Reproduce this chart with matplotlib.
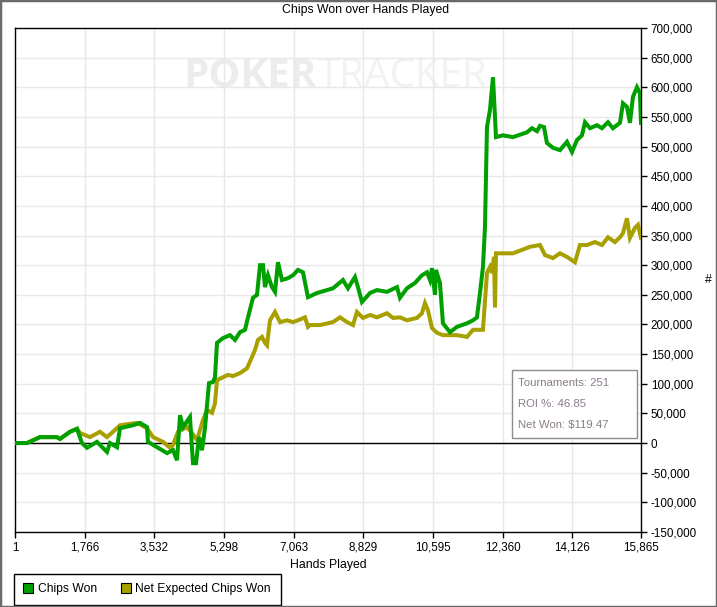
import matplotlib
matplotlib.use("Agg")
import matplotlib.pyplot as plt
from matplotlib.lines import Line2D
from matplotlib.patches import Rectangle
from matplotlib.ticker import FuncFormatter

# data (hands played, chips)
hands_won = [1, 305, 634, 1065, 1141, 1395, 1572, 1699, 1825, 2079, 2332, 2408, 2586, 2662,
             2991, 3169, 3346, 3371, 3600, 3853, 4005, 4106, 4183, 4258, 4435, 4511, 4588,
             4663, 4740, 4815, 4917, 5019, 5069, 5120, 5272, 5449, 5576, 5703, 5830, 5906,
             6032, 6134, 6210, 6286, 6336, 6412, 6513, 6590, 6665, 6767, 6918, 7046, 7172,
             7299, 7425, 7653, 8059, 8312, 8439, 8616, 8692, 8794, 8996, 9174, 9427, 9681,
             9757, 9934, 10137, 10314, 10441, 10517, 10568, 10644, 10669, 10770, 10846,
             11024, 11201, 11455, 11607, 11708, 11784, 11860, 11911, 11962, 12038, 12114,
             12190, 12367, 12621, 12975, 13102, 13229, 13305, 13406, 13482, 13634, 13811,
             13989, 14116, 14242, 14369, 14445, 14572, 14749, 14876, 15028, 15154, 15332,
             15408, 15509, 15585, 15661, 15762, 15838, 15865]
chips_won = [0, 0, 10000, 10000, 7000, 19000, 24000, 0, -8000, 2000, -15000, 0, -7000, 25000,
             30000, 34000, 27000, 2000, -7000, -17000, -12000, -29000, 47000, 27000, 44000,
             -34000, -34000, 10000, -12000, 25000, 101000, 103000, 111000, 169000, 177000,
             182000, 174000, 187000, 191000, 212000, 245000, 250000, 300000, 300000, 263000,
             283000, 263000, 255000, 305000, 275000, 278000, 283000, 292000, 288000, 246000,
             253000, 261000, 275000, 261000, 280000, 263000, 238000, 253000, 258000, 255000,
             263000, 245000, 261000, 270000, 283000, 288000, 275000, 295000, 250000, 292000,
             270000, 202000, 187000, 196000, 202000, 207000, 212000, 253000, 297000, 364000,
             533000, 562000, 617000, 516000, 519000, 516000, 524000, 531000, 526000, 535000,
             533000, 506000, 498000, 494000, 508000, 491000, 511000, 519000, 541000, 531000,
             536000, 531000, 541000, 531000, 540000, 573000, 567000, 540000, 584000, 600000,
             590000, 540000]

hands_exp = [1, 305, 634, 1065, 1141, 1395, 1572, 1648, 1901, 2155, 2332, 2484, 2662, 3093,
             3346, 3498, 3752, 3929, 4005, 4132, 4360, 4486, 4613, 4765, 4866, 4993, 5069,
             5120, 5272, 5398, 5525, 5703, 5880, 6006, 6083, 6159, 6260, 6336, 6387, 6463,
             6590, 6717, 6894, 7046, 7172, 7350, 7425, 7476, 7730, 8059, 8237, 8414, 8566,
             8667, 8819, 8996, 9174, 9427, 9579, 9757, 9934, 10187, 10314, 10390, 10466,
             10568, 10694, 10846, 11201, 11455, 11607, 11860, 11962, 12038, 12089, 12139,
             12165, 12190, 12291, 12621, 13051, 13305, 13432, 13634, 13811, 13989, 14192,
             14318, 14496, 14699, 14876, 15028, 15205, 15332, 15408, 15509, 15585, 15712,
             15788, 15865]
chips_exp = [0, 0, 10000, 10000, 7000, 19000, 24000, 17000, 10000, 19000, 10000, 19000, 30000,
             34000, 25000, 10000, 2000, -8000, -3000, 19000, 27000, 17000, 5000, 39000, 56000,
             51000, 67000, 106000, 111000, 115000, 113000, 118000, 126000, 145000, 157000,
             174000, 179000, 169000, 165000, 207000, 221000, 204000, 207000, 204000, 207000,
             212000, 196000, 199000, 199000, 204000, 212000, 204000, 199000, 221000, 211000,
             216000, 212000, 219000, 211000, 212000, 207000, 211000, 219000, 236000, 224000,
             194000, 186000, 182000, 182000, 179000, 191000, 191000, 287000, 297000, 287000,
             314000, 229000, 320000, 320000, 320000, 331000, 334000, 317000, 312000, 320000,
             314000, 305000, 334000, 334000, 339000, 334000, 347000, 339000, 347000, 354000,
             379000, 346000, 363000, 368000, 346000]

x_ticks = [1, 1766, 3532, 5298, 7063, 8829, 10595, 12360, 14126, 15865]
y_ticks = list(range(-150000, 700001, 50000))

green = "#00a000"
olive = "#a8a000"
text_font = "Liberation Sans"

fig = plt.figure(figsize=(7.17, 6.07), dpi=100)
ax = fig.add_axes([15 / 717, 1 - 532 / 607, 626 / 717, 504 / 607])

ax.text(0.482, 0.903, "POKER", transform=ax.transAxes, ha="right", va="center",
        fontsize=29, fontweight="bold", family="Open Sans", color="#ececec", zorder=0)
ax.text(0.484, 0.903, "TRACKER", transform=ax.transAxes, ha="left", va="center",
        fontsize=29, family="Open Sans", color="#f2f2f2", zorder=0)

ax.grid(True, color="#e8e8e8", linewidth=1)
ax.set_axisbelow(True)
ax.axhline(0, color="black", linewidth=1, zorder=2)

ax.plot(hands_exp, chips_exp, color=olive, linewidth=2.9, zorder=3,
        solid_joinstyle="miter")
ax.plot(hands_won, chips_won, color=green, linewidth=2.9, zorder=4,
        solid_joinstyle="miter")

ax.set_xlim(1, 15865)
ax.set_ylim(-150000, 700000)
ax.set_xticks(x_ticks)
ax.set_yticks(y_ticks)
ax.xaxis.set_major_formatter(FuncFormatter(lambda v, p: f"{int(round(v)):,}"))
ax.yaxis.set_major_formatter(FuncFormatter(lambda v, p: f"{int(round(v)):,}"))
ax.yaxis.tick_right()
ax.yaxis.set_label_position("right")
ax.tick_params(direction="out", length=4, width=1, color="black", labelsize=8.4,
               pad=3)
for lbl in ax.get_xticklabels() + ax.get_yticklabels():
    lbl.set_family(text_font)
for sp in ax.spines.values():
    sp.set_color("black")
    sp.set_linewidth(1)

ax.set_xlabel("Hands Played", family=text_font, fontsize=8.8, labelpad=3.5)
ax.set_ylabel("#", family=text_font, fontsize=8.8, labelpad=8, rotation=0,
              va="center")
fig.text(366 / 717, 1 - 10 / 607, "Chips Won over Hands Played", ha="center",
         va="center", family=text_font, fontsize=8.8)

# stats box
fig.patches.append(Rectangle((512 / 717, 1 - 438 / 607), 125 / 717, 68 / 607,
                             transform=fig.transFigure, facecolor="white",
                             edgecolor="#8c8c8c", linewidth=1, zorder=5))
stats = ["Tournaments: 251", "ROI %: 46.85", "Net Won: $119.47"]
for i, s in enumerate(stats):
    fig.text(518 / 717, 1 - (383 + 21 * i) / 607, s, ha="left", va="center",
             family=text_font, fontsize=8.2, color="#8a7b8a", zorder=6)

handles = [Line2D([], [], marker="s", ls="", markerfacecolor=green,
                  markeredgecolor="black", markersize=7, markeredgewidth=0.8),
           Line2D([], [], marker="s", ls="", markerfacecolor=olive,
                  markeredgecolor="black", markersize=7, markeredgewidth=0.8)]
leg = fig.legend(handles, ["Chips Won", "Net Expected Chips Won"], loc="lower left",
                 bbox_to_anchor=(14 / 717, 2 / 607), ncol=2, frameon=True,
                 fancybox=False, edgecolor="black", framealpha=1,
                 prop={"family": text_font, "size": 8.7}, handlelength=0.8,
                 handletextpad=0.4, columnspacing=1.95, borderpad=0.8,
                 borderaxespad=0)
leg.get_frame().set_linewidth(1)

fig.patches.append(Rectangle((0, 0), 1, 1, transform=fig.transFigure, fill=False,
                             edgecolor="#6a6a6a", linewidth=2.5, zorder=10))

plt.savefig("out.png", dpi=100)
